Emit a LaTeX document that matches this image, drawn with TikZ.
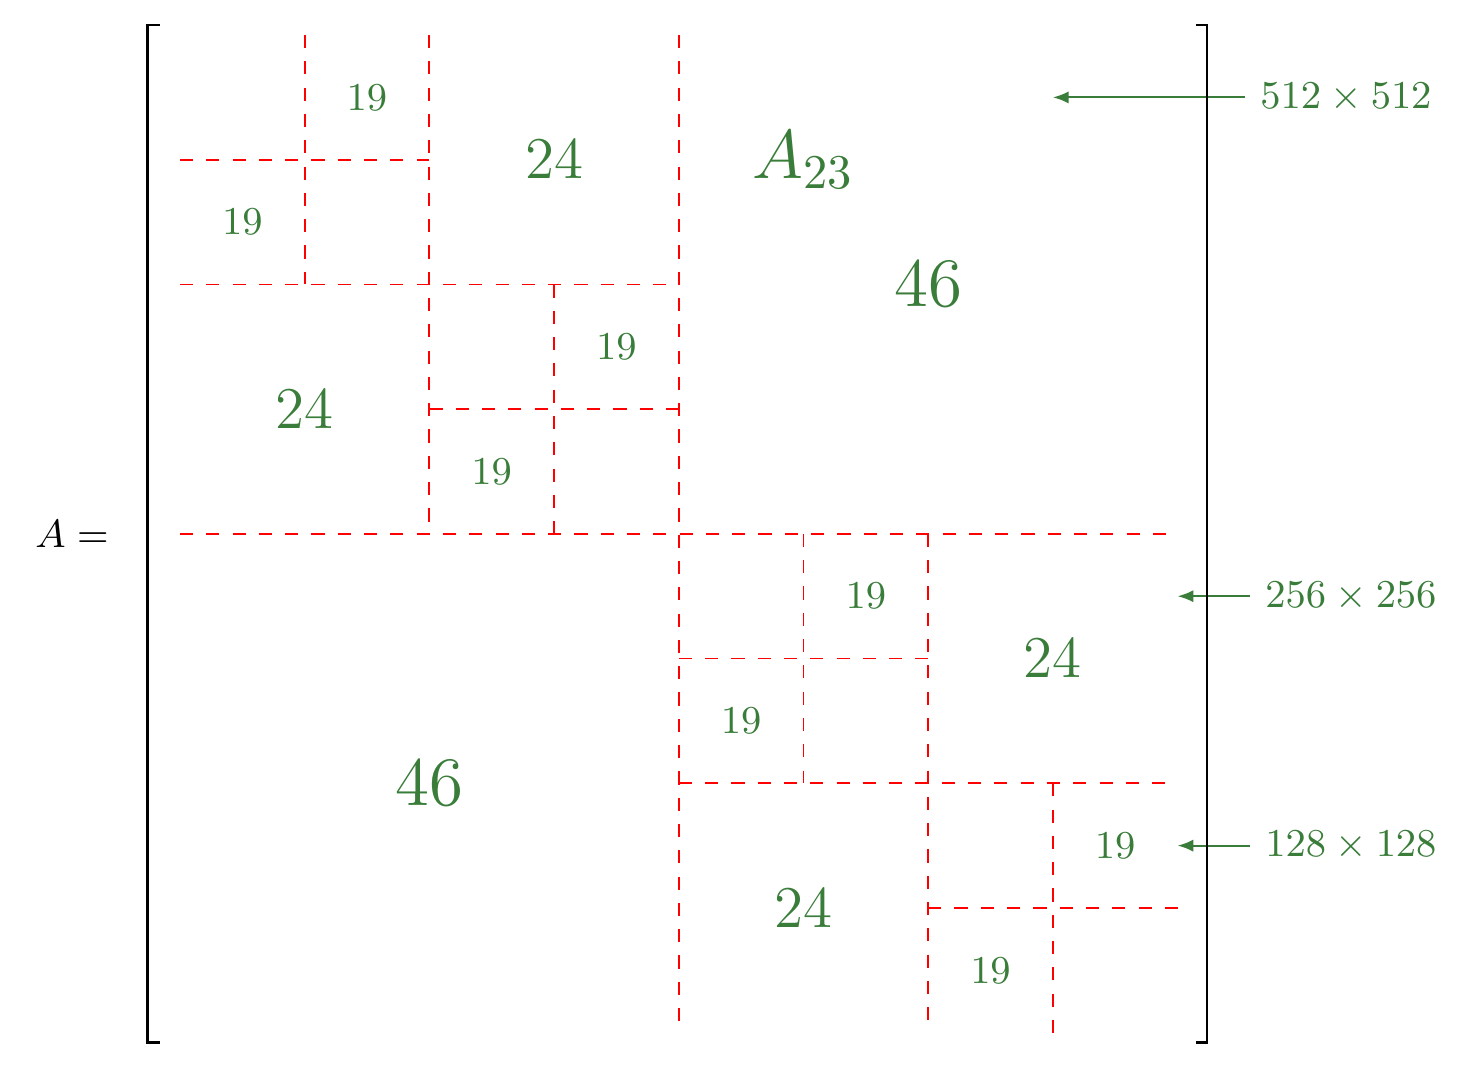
\RequirePackage{fix-cm}
\documentclass[tikz,border=0pt]{standalone}
\usepackage{amsmath}
\usepackage{xcolor}
\usetikzlibrary{positioning,arrows.meta}
\definecolor{hm}{RGB}{58,125,58}

\begin{document}
\begin{tikzpicture}[x=1cm, y=-1cm,
    font=\fontsize{9}{11}\selectfont,
    blk/.style={red, dashed, line width=0.4pt},
    rank/.style={text=hm},
    big/.style={rank, font=\fontsize{13.5}{16}\selectfont},
    huge/.style={rank, font=\fontsize{15.8}{19}\selectfont},
    note/.style={-{Latex[length=3.6pt,width=2.8pt]}, hm, line width=0.5pt}]
  \useasboundingbox (-1.443,-0.281) rectangle (10.369,8.276);
  % partition of the 1024 x 1024 matrix, one unit = 128
  \foreach \a/\b/\c/\d in {1/0/1/2, 2/0/2/4, 4/0/4/8, 0/1/2/1, 0/2/4/2, 3/2/3/4, 2/3/4/3,
      0/4/8/4, 5/4/5/6, 6/4/6/8, 4/5/6/5, 4/6/8/6, 7/6/7/8, 6/7/8/7}
    \draw[blk] (\a,\b) -- (\c,\d);
  % ranks of the blocks
  \foreach \x/\y [count=\i] in {1.5/0.5, 0.5/1.5, 3.5/2.5, 2.5/3.5, 5.5/4.5, 4.5/5.5, 7.5/6.5, 6.5/7.5}
    \node[rank] (s\i) at (\x,\y) {$19$};
  \foreach \x/\y [count=\i] in {3/1, 1/3, 7/5, 5/7}
    \node[big] (m\i) at (\x,\y) {$24$};
  \node[huge] (l1) at (6,2) {$46$};
  \node[huge] (l2) at (2,6) {$46$};
  \node[huge] (a23) at (5,1) {$A_{23}$};
  % block sizes
  \node[rank, anchor=west] (n512) at (8.54,0.5) {$512 \times 512$};
  \node[rank, anchor=west] (n256) at (8.58,4.5) {$256 \times 256$};
  \node[rank, anchor=west] (n128) at (8.58,6.5) {$128 \times 128$};
  \coordinate (t512) at (7,0.5);
  \coordinate (t256) at (8,4.5);
  \coordinate (t128) at (8,6.5);
  \draw[note] (n512.west) -- (t512);
  \draw[note] (n256.west) -- (t256);
  \draw[note] (n128.west) -- (t128);
  % brackets
  \node (lhs) at (-0.866,4) {$A =$};
  \draw[line width=0.65pt] (-0.16,-0.08) -- (-0.26,-0.08) -- (-0.26,8.076) -- (-0.16,8.076);
  \draw[line width=0.65pt] (8.15,-0.08) -- (8.236,-0.08) -- (8.236,8.076) -- (8.15,8.076);
\end{tikzpicture}
\end{document}
